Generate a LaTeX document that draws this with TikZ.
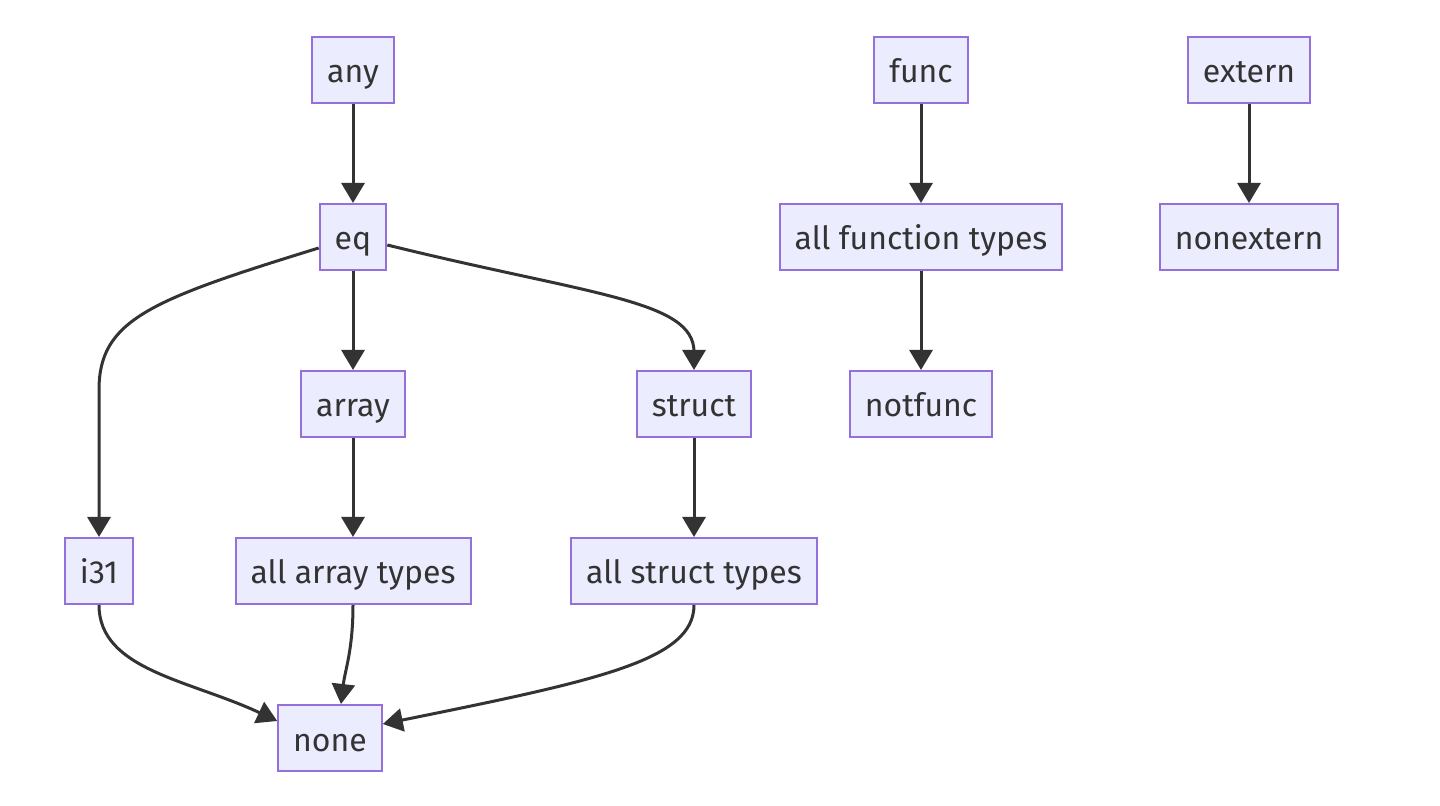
\documentclass[tikz,border=0pt]{standalone}
\usepackage{fontspec}
\setmainfont{Fira Sans}
\usetikzlibrary{arrows.meta,positioning}
\definecolor{boxfill}{HTML}{ECECFF}
\definecolor{boxline}{HTML}{9370DB}
\definecolor{edge}{HTML}{333333}

\begin{document}
\begin{tikzpicture}[x=0.5pt,y=-0.5pt,>={Triangle[length=10pt,width=11.5pt]},
 type/.style={draw=boxline,fill=boxfill,line width=1pt,text=edge,
 font=\fontsize{16}{19}\selectfont,minimum height=33pt,inner xsep=7.5pt,
 text height=15pt,text depth=2pt},
 sub/.style={->,draw=edge,line width=1.5pt}]
\useasboundingbox (0,0) rectangle (1440,806);
% gc types
\node[type] (any) at (353,70) {any};
\node[type] (eq) at (353,237) {eq};
\node[type] (array) at (353,404) {array};
\node[type] (struct) at (694,404) {struct};
\node[type] (i31) at (99,571) {i31};
\node[type] (allarray) at (353,571) {all array types};
\node[type] (allstruct) at (694,571) {all struct types};
\node[type] (none) at (330,738) {none};
% function types
\node[type] (func) at (921,70) {func};
\node[type] (allfunc) at (921,237) {all function types};
\node[type] (notfunc) at (921,404) {notfunc};
% external types
\node[type] (extern) at (1249,70) {extern};
\node[type] (nonextern) at (1249,237) {nonextern};

\draw[sub] (any) -- (eq);
\draw[sub] ([yshift=-5.5pt]eq.west) .. controls (150,300) and (99,320)
 .. (99,390) -- (i31.north);
\draw[sub] (eq) -- (array);
\draw[sub] ([yshift=-4pt]eq.east) .. controls (590,295) and (694,300)
 .. (694,352) -- (struct.north);
\draw[sub] (array) -- (allarray);
\draw[sub] (struct) -- (allstruct);
\draw[sub] (i31.south) .. controls (99,670) and (190,680)
 .. ([yshift=8.5pt]none.west);
\draw[sub] (allarray.south) .. controls (353,650) and (345,670)
 .. ([xshift=5.5pt]none.north);
\draw[sub] (allstruct.south) .. controls (694,660) and (600,680)
 .. ([yshift=7pt]none.east);
\draw[sub] (func) -- (allfunc);
\draw[sub] (allfunc) -- (notfunc);
\draw[sub] (extern) -- (nonextern);
\end{tikzpicture}
\end{document}
